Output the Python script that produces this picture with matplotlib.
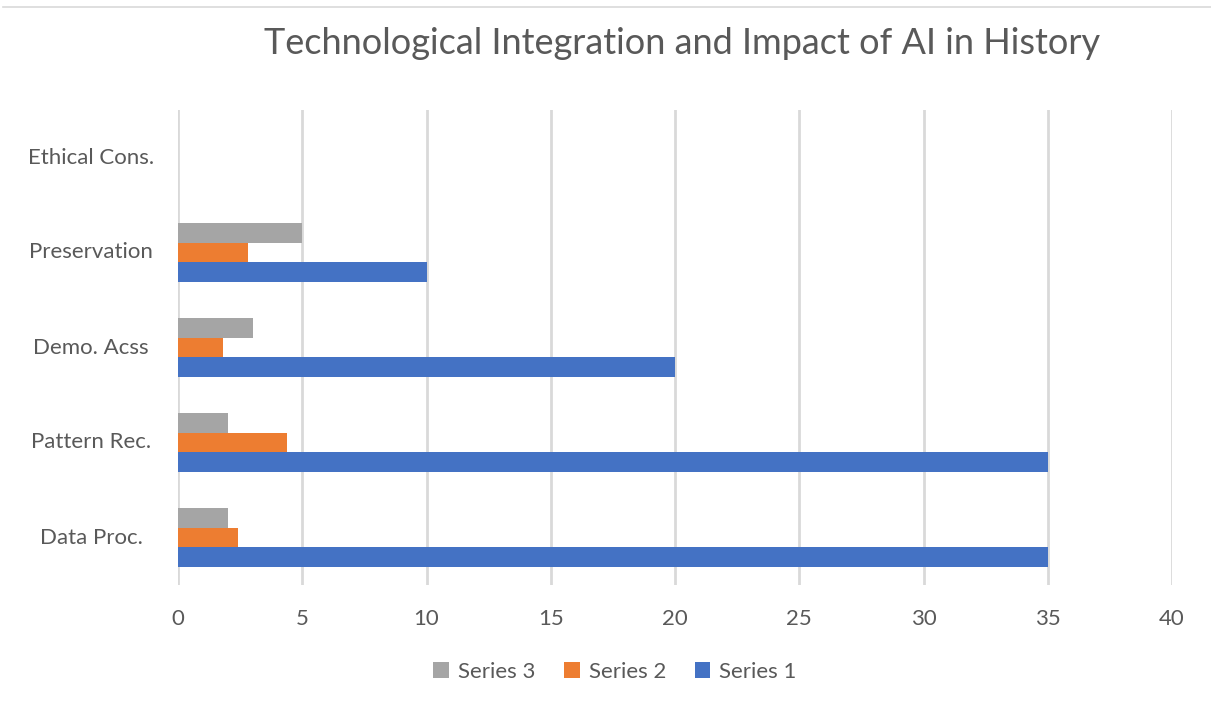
import numpy as np
import matplotlib.pyplot as plt
from matplotlib.lines import Line2D
from matplotlib.transforms import blended_transform_factory

# dados
categorias = ["Data Proc.", "Pattern Rec.", "Demo. Acss", "Preservation", "Ethical Cons."]
serie1 = [35, 35, 20, 10, 0]
serie2 = [2.4, 4.4, 1.8, 2.8, 0]
serie3 = [2, 2, 3, 5, 0]
nomes = ["Series 1", "Series 2", "Series 3"]
cores = ["#4472C4", "#ED7D31", "#A5A5A5"]
xticks = [0, 5, 10, 15, 20, 25, 30, 35, 40]

plt.rcParams['font.family'] = ['Lato', 'DejaVu Sans']
cinza = "#595959"

fig = plt.figure(figsize=(12.11, 7.04), dpi=100)
ax = fig.add_axes([178/1211, 1 - 585/704, (1172 - 178)/1211, (585 - 110)/704])

y = np.arange(len(categorias))
h = 0.205
barras = []
for i, (vals, cor) in enumerate(zip([serie1, serie2, serie3], cores)):
    b = ax.barh(y + (i - 1) * h, vals, height=h, color=cor, linewidth=0, zorder=3)
    barras.append(b)

ax.set_xlim(0, 40)
ax.set_ylim(-0.5, len(categorias) - 0.5)
ax.set_xticks(xticks)
ax.set_xticklabels([str(t) for t in xticks], fontsize=16, color=cinza)
ax.set_yticks(y)
ax.set_yticklabels([])
trans = blended_transform_factory(fig.transFigure, ax.transData)
for yi, nome in zip(y, categorias):
    ax.text(91/1211, yi, nome, transform=trans, ha='center', va='center',
            fontsize=16, color=cinza)
ax.tick_params(axis='both', length=0, pad=17)
ax.grid(axis='x', color="#D9D9D9", linewidth=2, zorder=0)
for s in ax.spines.values():
    s.set_visible(False)

fig.text(682/1211, 1 - 43/704, "Technological Integration and Impact of AI in History",
         ha='center', va='center', fontsize=26, color=cinza)

# linha no topo (borda do grafico)
fig.add_artist(Line2D([3/1211, 1], [1 - 7/704, 1 - 7/704], color="#D9D9D9", linewidth=1.2))

fig.legend(barras[::-1], nomes[::-1], loc='center', bbox_to_anchor=(615/1211, 1 - 672/704),
           ncol=3, frameon=False, fontsize=16, labelcolor=cinza,
           handlelength=0.7, handleheight=0.7, handletextpad=0.4, columnspacing=1.3)

fig.savefig("out.png", dpi=100)
